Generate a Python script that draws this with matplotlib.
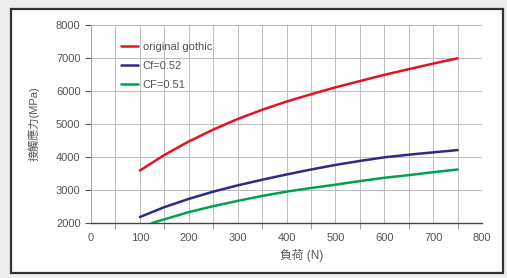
import numpy as np
import matplotlib
matplotlib.use("Agg")
import matplotlib.pyplot as plt
from matplotlib.patches import Rectangle

plt.rcParams['font.family'] = ['Liberation Sans', 'Noto Sans CJK TC', 'DejaVu Sans']

# load (N) vs contact stress (MPa)
load_red = [100, 150, 200, 250, 300, 350, 400, 450, 500, 550, 600, 650, 700, 750]
stress_red = [3590, 4060, 4470, 4830, 5150, 5430, 5680, 5900, 6110, 6300, 6490, 6660, 6830, 6990]

load_blue = [100, 150, 200, 250, 300, 350, 400, 450, 500, 550, 600, 650, 700, 750]
stress_blue = [2180, 2480, 2730, 2950, 3140, 3310, 3470, 3620, 3760, 3880, 3990, 4070, 4140, 4210]

load_green = [125, 150, 200, 250, 300, 350, 400, 450, 500, 550, 600, 650, 700, 750]
stress_green = [2000, 2110, 2330, 2510, 2670, 2820, 2950, 3060, 3160, 3270, 3370, 3450, 3540, 3620]

labels = ["original gothic", "Cf=0.52", "CF=0.51"]
colors = ["#e3141f", "#2e2a86", "#00a24f"]

W, H = 507, 278
fig = plt.figure(figsize=(W / 100, H / 100), dpi=100)
fig.patch.set_facecolor("#ededed")

# white panel with dark frame, on its own background axes
bg = fig.add_axes([0, 0, 1, 1], zorder=-1)
bg.set_xlim(0, W)
bg.set_ylim(H, 0)
bg.axis("off")
bg.add_patch(Rectangle((11, 9), 503 - 11, 273 - 9, facecolor="white",
                       edgecolor="#333333", linewidth=1.6))

ax = fig.add_axes([91 / W, 1 - 223 / H, (482 - 91) / W, (223 - 25) / H])
ax.set_facecolor("white")

for x, y, lab, c in zip([load_red, load_blue, load_green],
                        [stress_red, stress_blue, stress_green], labels, colors):
    ax.plot(x, y, color=c, lw=1.8, label=lab, zorder=3,
            solid_joinstyle="round", solid_capstyle="round")

ax.set_xlim(0, 800)
ax.set_ylim(2000, 8000)
ax.set_xticks(np.arange(0, 801, 100))
ax.set_yticks(np.arange(2000, 8001, 1000))
ax.set_xticks(np.arange(50, 800, 100), minor=True)

for xv in np.arange(50, 801, 50):
    ax.axvline(xv, color="#bdbdbd", lw=0.7, zorder=1)
for yv in np.arange(3000, 8001, 1000):
    ax.axhline(yv, color="#bdbdbd", lw=0.7, zorder=1)

for s in ["top", "right"]:
    ax.spines[s].set_visible(False)
ax.spines["left"].set_color("#aaaaaa")
ax.spines["bottom"].set_color("#444444")
ax.spines["bottom"].set_linewidth(1.0)

ax.tick_params(axis="both", labelsize=8, colors="#555555", length=4, width=0.8)
ax.tick_params(axis="x", which="major", length=0, pad=7)
ax.tick_params(axis="x", which="minor", length=4, color="#888888")
for t in ax.get_xticklabels() + ax.get_yticklabels():
    t.set_color("#555555")

ax.set_ylabel("接觸應力(MPa)", fontsize=8, color="#555555", labelpad=12)
ax.set_xlabel("負荷 (N)", fontsize=8.5, color="#555555", labelpad=4)
ax.xaxis.set_label_coords(0.54, -0.13)

leg = ax.legend(loc="upper left", bbox_to_anchor=(0.05, 0.965), frameon=False,
                fontsize=8, handlelength=1.6, handletextpad=0.4, labelspacing=0.8)
for t in leg.get_texts():
    t.set_color("#555555")

fig.savefig("out.png", dpi=100, facecolor=fig.get_facecolor())
